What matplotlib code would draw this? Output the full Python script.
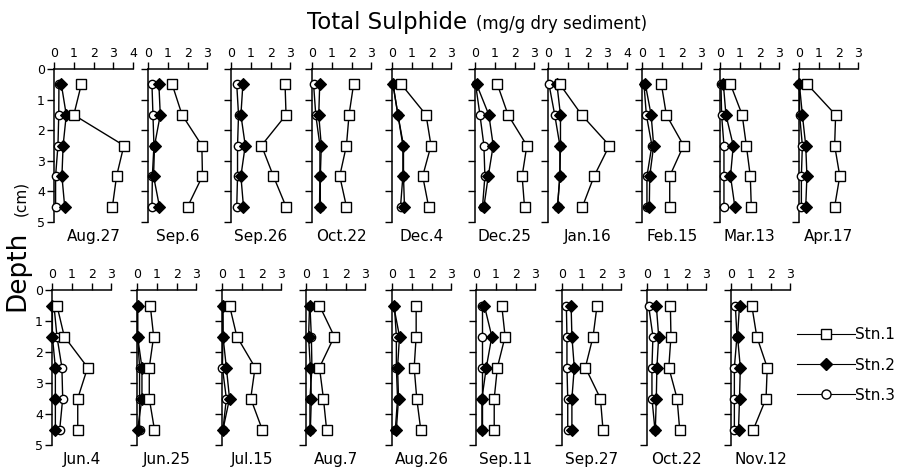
import matplotlib
matplotlib.use("Agg")
import matplotlib.pyplot as plt
from matplotlib.lines import Line2D

plt.rcParams['font.family'] = ['DejaVu Sans']

depths = [0.5, 1.5, 2.5, 3.5, 4.5]

# ---- data (mg/g dry sediment) ----
dates_top = ["Aug.27", "Sep.6", "Sep.26", "Oct.22", "Dec.4", "Dec.25",
             "Jan.16", "Feb.15", "Mar.13", "Apr.17"]
dates_bottom = ["Jun.4", "Jun.25", "Jul.15", "Aug.7", "Aug.26", "Sep.11",
                "Sep.27", "Oct.22", "Nov.12"]
xmax_top = [4, 3, 3, 3, 3, 3, 4, 3, 3, 3]
xmax_bottom = [3, 3, 3, 3, 3, 3, 3, 3, 3]

stn1_top = [
    [1.38, 1.00, 3.53, 3.16, 2.95],
    [1.22, 1.72, 2.72, 2.75, 2.00],
    [2.73, 2.78, 1.54, 2.14, 2.78],
    [2.10, 1.87, 1.74, 1.40, 1.74],
    [0.47, 1.72, 1.97, 1.55, 1.85],
    [1.13, 1.67, 2.62, 2.38, 2.50],
    [0.60, 1.70, 3.10, 2.33, 1.74],
    [0.98, 1.23, 2.10, 1.40, 1.40],
    [0.53, 1.12, 1.33, 1.53, 1.58],
    [0.42, 1.85, 1.80, 2.06, 1.80],
]
stn2_top = [
    [0.37, 0.62, 0.46, 0.40, 0.54],
    [0.55, 0.62, 0.33, 0.28, 0.58],
    [0.60, 0.50, 0.72, 0.50, 0.63],
    [0.39, 0.34, 0.47, 0.42, 0.42],
    [0.05, 0.30, 0.58, 0.58, 0.63],
    [0.08, 0.70, 0.92, 0.67, 0.45],
    [0.45, 0.63, 0.63, 0.60, 0.48],
    [0.17, 0.46, 0.59, 0.39, 0.37],
    [0.17, 0.30, 0.67, 0.53, 0.75],
    [0.02, 0.17, 0.34, 0.40, 0.34],
]
stn3_top = [
    [0.25, 0.24, 0.20, 0.08, 0.08],
    [0.20, 0.25, 0.30, 0.22, 0.20],
    [0.29, 0.38, 0.33, 0.33, 0.29],
    [0.08, 0.19, 0.40, 0.40, 0.38],
    [0.05, 0.30, 0.55, 0.55, 0.43],
    [0.03, 0.25, 0.45, 0.50, 0.38],
    [0.05, 0.34, 0.60, 0.60, 0.48],
    [0.10, 0.22, 0.50, 0.25, 0.25],
    [0.05, 0.08, 0.20, 0.20, 0.20],
    [0.02, 0.03, 0.17, 0.12, 0.12],
]

stn1_bottom = [
    [0.25, 0.62, 1.80, 1.30, 1.30],
    [0.67, 0.84, 0.62, 0.62, 0.88],
    [0.38, 0.75, 1.67, 1.45, 2.03],
    [0.68, 1.43, 0.68, 0.88, 1.04],
    [1.22, 1.22, 1.12, 1.25, 1.45],
    [1.30, 1.47, 1.08, 0.92, 0.92],
    [1.77, 1.57, 1.18, 1.94, 2.07],
    [1.18, 1.21, 1.10, 1.52, 1.65],
    [1.05, 1.30, 1.83, 1.77, 1.13],
]
stn2_bottom = [
    [0.02, 0.02, 0.17, 0.17, 0.17],
    [0.03, 0.03, 0.25, 0.25, 0.03],
    [0.03, 0.05, 0.22, 0.38, 0.05],
    [0.18, 0.13, 0.22, 0.27, 0.22],
    [0.08, 0.38, 0.28, 0.33, 0.22],
    [0.42, 0.80, 0.52, 0.30, 0.30],
    [0.46, 0.50, 0.62, 0.50, 0.50],
    [0.47, 0.59, 0.50, 0.47, 0.42],
    [0.43, 0.33, 0.47, 0.43, 0.38],
]
stn3_bottom = [
    [0.10, 0.25, 0.50, 0.54, 0.39],
    [0.03, 0.03, 0.13, 0.13, 0.13],
    [0.05, 0.05, 0.02, 0.22, 0.05],
    [0.20, 0.27, 0.30, 0.20, 0.20],
    [0.12, 0.22, 0.22, 0.28, 0.17],
    [0.30, 0.30, 0.30, 0.30, 0.30],
    [0.22, 0.25, 0.25, 0.29, 0.29],
    [0.08, 0.30, 0.25, 0.25, 0.40],
    [0.22, 0.30, 0.17, 0.17, 0.17],
]

# ---- layout (pixels) ----
W, H = 898, 472
left_top = [54, 148, 231, 312, 392, 475, 548, 642, 720, 799]
left_bottom = [52, 137, 222, 306, 392, 476, 562, 647, 731]
px_per_unit = 19.8
row_top = (69, 222)
row_bottom = (290, 445)

fig = plt.figure(figsize=(W / 100, H / 100), dpi=100)


def panel(left, row, xmax, s1, s2, s3, label, first):
    y0, y1 = row
    width = xmax * px_per_unit
    ax = fig.add_axes([left / W, 1 - y1 / H, width / W, (y1 - y0) / H])
    ax.set_xlim(0, xmax)
    ax.set_ylim(5, 0)
    for sp in ("right", "bottom"):
        ax.spines[sp].set_visible(False)
    for sp in ("top", "left"):
        ax.spines[sp].set_linewidth(1.1)
    ax.xaxis.set_ticks_position("top")
    ax.xaxis.set_label_position("top")
    ax.set_xticks(range(0, xmax + 1))
    ax.set_yticks(range(0, 6))
    ax.tick_params(axis="x", direction="out", length=5, width=1, pad=1.5,
                   labelsize=9)
    ax.tick_params(axis="y", direction="out", length=5, width=1, pad=1.5,
                   labelsize=9, labelleft=first)
    ax.patch.set_alpha(0)
    ax.plot(s3, depths, color="black", lw=1.0, marker="o", ms=6,
            mfc="white", mec="black", mew=1.0, zorder=3, clip_on=False)
    ax.plot(s2, depths, color="black", lw=1.0, marker="D", ms=6,
            mfc="black", mec="black", mew=0.8, zorder=4, clip_on=False)
    ax.plot(s1, depths, color="black", lw=1.0, marker="s", ms=7,
            mfc="white", mec="black", mew=1.0, zorder=5, clip_on=False)
    ax.annotate(label, xy=(0.5, 0), xycoords="axes fraction",
                xytext=(0, -5), textcoords="offset points",
                ha="center", va="top", fontsize=11)
    return ax


for i in range(len(dates_top)):
    panel(left_top[i], row_top, xmax_top[i], stn1_top[i], stn2_top[i],
          stn3_top[i], dates_top[i], i == 0)
for i in range(len(dates_bottom)):
    panel(left_bottom[i], row_bottom, xmax_bottom[i], stn1_bottom[i],
          stn2_bottom[i], stn3_bottom[i], dates_bottom[i], i == 0)

# titles
fig.text(467 / W, 1 - 29 / H, "Total Sulphide", ha="right", va="baseline",
         fontsize=16.5)
fig.text(476 / W, 1 - 29 / H, "(mg/g dry sediment)", ha="left",
         va="baseline", fontsize=12)
fig.text(30 / W, 1 - 271 / H, "Depth", rotation=90, ha="right",
         va="center", fontsize=19)
fig.text(28 / W, 1 - 198 / H, "(cm)", rotation=90, ha="right",
         va="center", fontsize=11)

# legend
handles = [
    Line2D([], [], color="black", lw=0.8, marker="s", ms=7, mfc="white",
           mec="black"),
    Line2D([], [], color="black", lw=0.8, marker="D", ms=6, mfc="black",
           mec="black"),
    Line2D([], [], color="black", lw=0.8, marker="o", ms=6.5, mfc="white",
           mec="black"),
]
fig.legend(handles, ["Stn.1", "Stn.2", "Stn.3"], loc="center left",
           bbox_to_anchor=(797 / W, 1 - 365 / H), frameon=False,
           fontsize=11, handlelength=3.8, handletextpad=0.0,
           labelspacing=1.0, borderpad=0, borderaxespad=0)

fig.savefig("out.png", dpi=100)
